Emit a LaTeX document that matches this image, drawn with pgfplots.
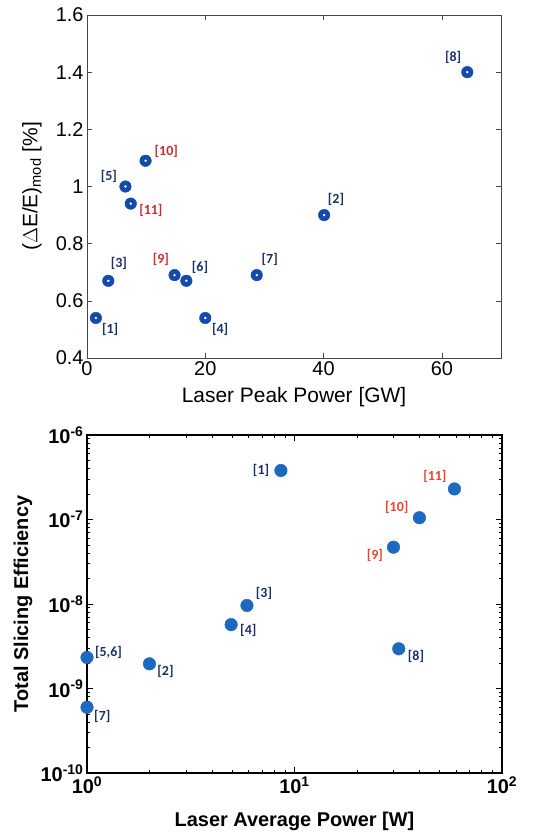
\documentclass[border=0pt]{standalone}
\usepackage{pgfplots}
\pgfplotsset{compat=1.18}
\usepackage{pgfplotstable}
\usepackage{fontspec}
\setmainfont{Liberation Sans}
\newfontfamily\refs{Carlito}

\definecolor{dotblue}{RGB}{20,75,170}
\definecolor{ballblue}{RGB}{28,105,190}
\definecolor{refnavy}{RGB}{28,48,100}
\definecolor{refred}{RGB}{205,45,45}
\definecolor{refred2}{RGB}{235,65,45}
\definecolor{framegray}{RGB}{70,70,70}

% modulation amplitude vs. laser peak power
\pgfplotstableread{
x     y
1.5   0.54
40.1  0.90
3.6   0.67
20.0  0.54
6.5   1.00
16.8  0.67
28.7  0.69
64.3  1.40
14.8  0.69
9.9   1.09
7.4   0.94
}\peakdata

% total slicing efficiency vs. laser average power
\pgfplotstableread{
x     y
8.6   3.8e-7
2.0   1.96e-9
5.9   9.6e-9
4.95  5.7e-9
1.0   2.33e-9
1.0   6.0e-10
31.8  2.95e-9
30.0  4.7e-8
40.0  1.05e-7
59.0  2.3e-7
}\avgdata

\begin{document}
\begin{tikzpicture}
\useasboundingbox (0,0) rectangle (555bp,835bp);

\begin{axis}[
  at={(87bp,477bp)}, anchor=south west,
  scale only axis, width=414bp, height=343bp,
  xmin=0, xmax=70, ymin=0.4, ymax=1.6,
  xtick={0,20,40,60}, ytick={0.4,0.6,...,1.6},
  /pgf/number format/assume math mode=true,
  yticklabel style={/pgf/number format/.cd,fixed,precision=1},
  tick label style={font=\fontsize{20}{22}\selectfont},
  axis line style={framegray, line width=0.9pt},
  major tick length=5bp,
  tick style={framegray, line width=0.6pt},
  xlabel={Laser Peak Power [GW]},
  ylabel={($\Delta$E/E)\textsubscript{mod} [\%]},
  label style={font=\fontsize{21}{23}\selectfont},
  xlabel style={at={(axis description cs:0.5,-0.114)}, anchor=center},
  ylabel style={at={(axis description cs:-0.133,0.5)}, anchor=center, rotate=0},
  clip=false,
]
\addplot[only marks, mark=*, mark size=5.8bp, color=dotblue] table {\peakdata};
\addplot[only marks, mark=*, mark size=1bp, color=white] table {\peakdata};
\begin{scope}[font=\refs\bfseries\fontsize{14}{16}\selectfont]
\node[refnavy] at (axis cs:3.9,0.501) {[1]};
\node[refnavy] at (axis cs:42.1,0.956) {[2]};
\node[refnavy] at (axis cs:5.4,0.732) {[3]};
\node[refnavy] at (axis cs:22.5,0.501) {[4]};
\node[refnavy] at (axis cs:3.7,1.036) {[5]};
\node[refnavy] at (axis cs:19.1,0.718) {[6]};
\node[refnavy] at (axis cs:30.9,0.746) {[7]};
\node[refnavy] at (axis cs:61.9,1.452) {[8]};
\node[refred] at (axis cs:12.5,0.746) {[9]};
\node[refred] at (axis cs:13.4,1.124) {[10]};
\node[refred] at (axis cs:10.8,0.917) {[11]};
\end{scope}
\end{axis}

\begin{axis}[
  at={(87bp,62bp)}, anchor=south west,
  scale only axis, width=415bp, height=338bp,
  xmode=log, ymode=log,
  xmin=1, xmax=100, ymin=1e-10, ymax=1e-6,
  xtick={1,10,100},
  xticklabels={\textbf{10}\textsuperscript{\textbf{0}},\textbf{10}\textsuperscript{\textbf{1}},\textbf{10}\textsuperscript{\textbf{2}}},
  ytick={1e-10,1e-9,1e-8,1e-7,1e-6},
  yticklabels={\textbf{10}\textsuperscript{\textbf{-10}},\textbf{10}\textsuperscript{\textbf{-9}},\textbf{10}\textsuperscript{\textbf{-8}},\textbf{10}\textsuperscript{\textbf{-7}},\textbf{10}\textsuperscript{\textbf{-6}}},
  tick label style={font=\fontsize{20}{22}\selectfont},
  axis line style={black, line width=1.3pt},
  major tick length=6bp, minor tick length=3bp,
  tick style={black, line width=0.8pt},
  xlabel={\textbf{Laser Average Power [W]}},
  ylabel={\textbf{Total Slicing Efficiency}},
  label style={font=\fontsize{20}{22}\selectfont},
  xlabel style={at={(axis description cs:0.5,-0.144)}, anchor=center},
  ylabel style={at={(axis description cs:-0.154,0.5)}, anchor=center, rotate=0},
  clip=false, axis on top,
]
\addplot[only marks, mark=*, mark size=6.3bp, color=ballblue] table {\avgdata};
\begin{scope}[font=\refs\bfseries\fontsize{14}{16}\selectfont]
\node[refnavy] at (axis cs:6.90,3.79e-7) {[1]};
\node[refnavy] at (axis cs:2.39,1.58e-9) {[2]};
\node[refnavy] at (axis cs:7.13,1.34e-8) {[3]};
\node[refnavy] at (axis cs:5.99,4.92e-9) {[4]};
\node[refnavy] at (axis cs:1.27,2.68e-9) {[5,6]};
\node[refnavy] at (axis cs:1.185,4.64e-10) {[7]};
\node[refnavy] at (axis cs:38.5,2.38e-9) {[8]};
\node[refred2] at (axis cs:24.4,3.73e-8) {[9]};
\node[refred2] at (axis cs:31.1,1.39e-7) {[10]};
\node[refred2] at (axis cs:47.5,3.21e-7) {[11]};
\end{scope}
\end{axis}
\end{tikzpicture}
\end{document}
